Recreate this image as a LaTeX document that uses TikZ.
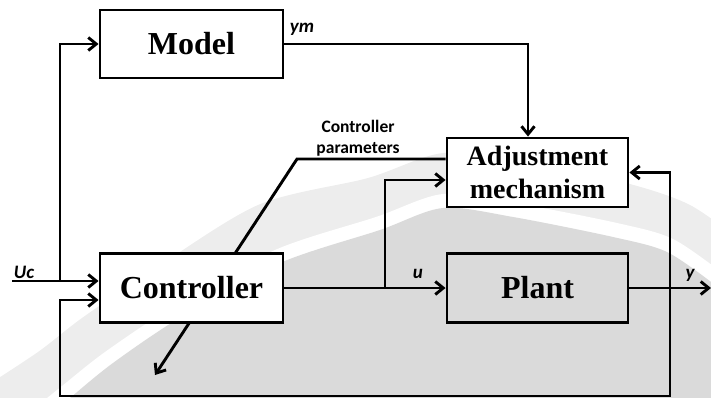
\documentclass[tikz,border=0pt]{standalone}
\usepackage{fontspec}
\setmainfont{Liberation Serif}
\newfontfamily\labfont{Carlito}
\usetikzlibrary{arrows.meta}
\begin{document}
\begin{tikzpicture}[x=1pt,y=-1pt,line width=2.9pt,
  tip/.tip={Straight Barb[length=8pt,width=13pt]},
  arr/.style={-tip},
  box/.style={draw,rectangle,inner sep=0pt,fill=white,font=\bfseries\fontsize{32}{34}\selectfont},
  lab/.style={inner sep=0pt,font=\labfont\bfseries\itshape\fontsize{19}{21}\selectfont},
  plab/.style={inner sep=0pt,align=center,font=\labfont\bfseries\fontsize{17.5}{21}\selectfont}]
\useasboundingbox (0,0) rectangle (711,398);
% watermark background
\begin{scope}
\clip (0,0) rectangle (711,398);
\fill[gray!14] plot[smooth] coordinates {(-20,390) (38,352) (82,318) (150,272) (258,205) (368,178) (443,153) (525,160) (630,184) (690,205) (740,240)} -- (740,420) -- (-20,420) -- cycle;
\fill[white] plot[smooth] coordinates {(20,420) (62,386) (105,352) (174,306) (275,250) (376,217) (443,194) (515,203) (617,223) (673,239) (725,275)} -- (725,420) -- cycle;
\fill[gray!29] plot[smooth] coordinates {(50,415) (70,398) (113,363) (181,317) (280,263) (380,230) (443,208) (513,217) (613,237) (667,252) (715,285)} -- (715,420) -- cycle;
\end{scope}
% blocks
\node[box,minimum width=183pt,minimum height=68pt] (model) at (191.5,44) {Model};
\node[box,minimum width=181pt,minimum height=69pt,align=center,font=\bfseries\fontsize{28}{33}\selectfont] (adj) at (537.5,172.5) {Adjustment\\mechanism};
\node[box,minimum width=183pt,minimum height=69pt] (ctrl) at (191.5,288) {Controller};
\node[box,fill=none,minimum width=181pt,minimum height=69pt] (plant) at (537.5,288) {Plant};
% coordinates
\coordinate (uc) at (12,281);
\coordinate (j1) at (60,281);
\coordinate (j2) at (385,288);
\coordinate (pk) at (297,159);
\coordinate (ptop) at (235,253.5);
\coordinate (pb) at (189.5,322.5);
\coordinate (pend) at (155,375);
\coordinate (yend) at (711,288);
\coordinate (fbb) at (670,396);
\coordinate (fbl) at (60,396);
% connectors
\draw (uc) -- (j1);
\draw[arr] (j1) -- (ctrl.west |- j1);
\draw[arr] (j1) |- (model.west);
\draw[arr] (model.east) -| ([xshift=-9.5pt]adj.north);
\draw[arr] (ctrl.east) -- (plant.west);
\draw[arr] (j2) |- ([yshift=-7.5pt]adj.west);
\draw ([yshift=13.5pt]adj.west) -- (pk) -- (ptop);
\draw[arr] (pb) -- (pend);
\draw[arr] (plant.east) -- (yend);
\draw[tip-tip] (adj.east) -| (fbb) -- (fbl) |- ([yshift=-12pt]ctrl.west);
% labels
\node[lab] (ymlab) at (302,29) {ym};
\node[plab] (cp) at (358,138) {Controller\\parameters};
\node[lab] (uclab) at (24,272.5) {Uc};
\node[lab] (ulab) at (418,273.5) {u};
\node[lab] (ylab) at (690,275.5) {y};
\end{tikzpicture}
\end{document}
